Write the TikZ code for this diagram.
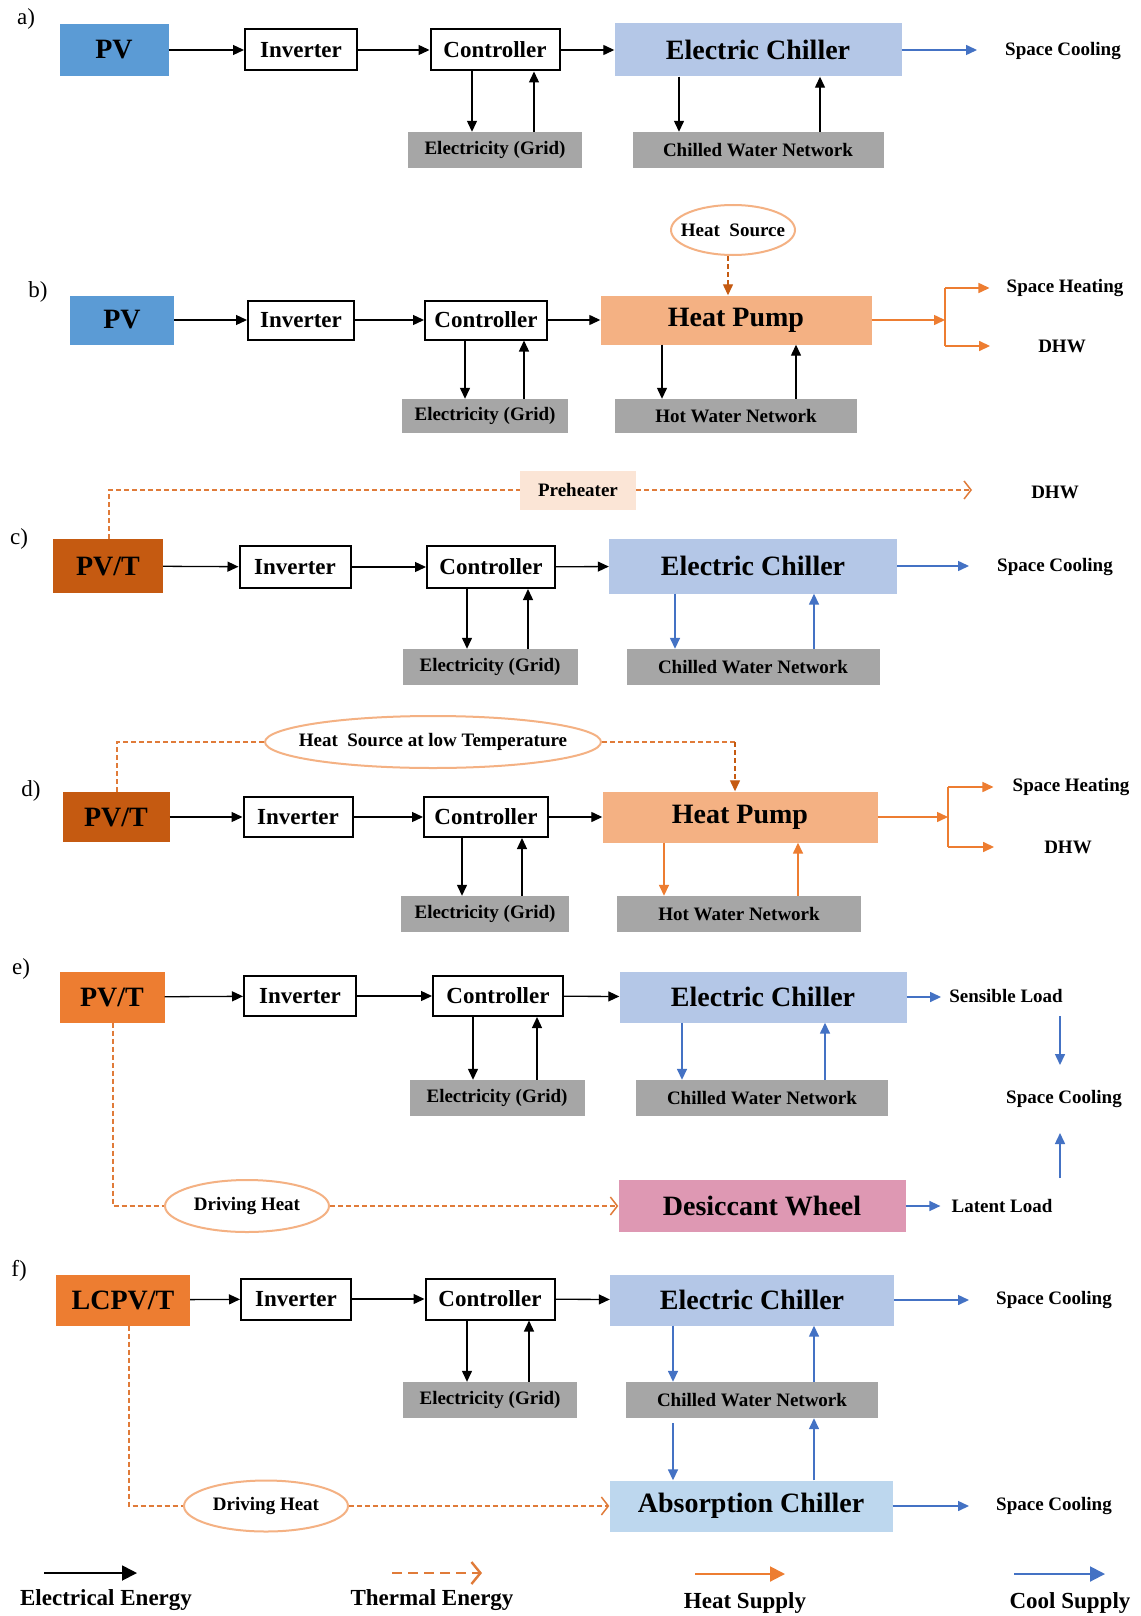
\documentclass[tikz,border=0pt]{standalone}
\usepackage{fontspec}
\setmainfont{Liberation Serif}
\usetikzlibrary{arrows.meta,shapes.geometric,calc}
\definecolor{pvblue}{HTML}{5B9BD5}
\definecolor{chill}{HTML}{B4C7E7}
\definecolor{hpc}{HTML}{F4B183}
\definecolor{gridg}{HTML}{A6A6A6}
\definecolor{pvtdark}{HTML}{C55A11}
\definecolor{pvtor}{HTML}{ED7D31}
\definecolor{desic}{HTML}{DE98B3}
\definecolor{absc}{HTML}{BDD7EE}
\definecolor{preh}{HTML}{FBE5D6}
\definecolor{coolb}{HTML}{4472C4}
\definecolor{heato}{HTML}{ED7D31}
\definecolor{thermo}{HTML}{E07B39}
\definecolor{ellb}{HTML}{F4B183}
\newcommand\myfs[1]{\fontsize{#1}{#1}\selectfont}
\begin{document}
\begin{tikzpicture}[x=1pt,y=-1pt,
  big/.style={font=\bfseries\myfs{28}},
  mid/.style={font=\bfseries\myfs{23}},
  small/.style={font=\bfseries\myfs{19}},
  src/.style={big,inner sep=0pt},
  ctl/.style={draw,line width=2pt,fill=white,mid,inner sep=0pt},
  gridbox/.style={fill=gridg,small,inner sep=0pt},
  lbl/.style={small,inner sep=0pt},
  ell/.style={ellipse,draw=ellb,line width=2pt,inner sep=0pt},
  plabel/.style={font=\myfs{23},inner sep=0pt},
  legtext/.style={font=\bfseries\myfs{23},inner sep=0pt},
  ea/.style={line width=1.3pt,-{Triangle[length=11pt,width=10pt]}},
  ca/.style={coolb,line width=1.5pt,-{Triangle[length=11pt,width=10pt]}},
  ha/.style={heato,line width=1.5pt,-{Triangle[length=11pt,width=10pt]}},
  hl/.style={heato,line width=1.5pt},
  tl/.style={thermo,line width=1.3pt,dash pattern=on 5pt off 3pt},
  ta/.style={tl,-{Straight Barb[length=7pt,width=18pt,line width=1.5pt]}},
  tfa/.style={pvtdark,line width=1.3pt,dash pattern=on 5pt off 3pt,-{Triangle[length=11pt,width=10pt]}},
  bigtip/.style={-{Triangle[length=15pt,width=15pt]}},
]
\useasboundingbox[fill=white] (0,0) rectangle (1140,1616);

% ---------------- a) ----------------
\node[plabel] (la) at (26,19) {a)};
\node[src,fill=pvblue,minimum width=109pt,minimum height=52pt] (pvA) at (114,50) {PV};
\node[ctl,minimum width=112pt,minimum height=41pt] (invA) at (301,50) {Inverter};
\node[ctl,minimum width=129pt,minimum height=41pt] (ctlA) at (495,50) {Controller};
\node[src,fill=chill,minimum width=287pt,minimum height=53pt] (ecA) at (758,50) {Electric Chiller};
\node[gridbox,minimum width=174pt,minimum height=36pt] (gridA) at (495,150) {Electricity (Grid)};
\node[gridbox,minimum width=251pt,minimum height=36pt] (cwnA) at (758,150) {Chilled Water Network};
\node[lbl] (scA) at (1063,51) {Space Cooling};
\draw[ea] (pvA) -- (invA);
\draw[ea] (invA) -- (ctlA);
\draw[ea] (ctlA) -- (ecA);
\draw[ca,shorten >=28pt] (ecA.east) -- (ecA.east -| scA.west);
\draw[ea] (472,0 |- ctlA.south) -- (472,0 |- gridA.north);
\draw[ea] (534,0 |- gridA.north) -- (534,0 |- ctlA.south);
\draw[ea] (679,0 |- ecA.south) -- (679,0 |- cwnA.north);
\draw[ea] (820,0 |- cwnA.north) -- (820,0 |- ecA.south);

% ---------------- b) ----------------
\node[plabel] (lb) at (38,292) {b)};
\node[ell,minimum width=124pt,minimum height=50pt] (hsB) at (733,230) {};
\node[lbl] (hsBt) at (hsB) {Heat\hspace{0.5em}Source};
\node[src,fill=pvblue,minimum width=104pt,minimum height=49pt] (pvB) at (122,320) {PV};
\node[ctl,minimum width=106pt,minimum height=39pt] (invB) at (301,320) {Inverter};
\node[ctl,minimum width=122pt,minimum height=39pt] (ctlB) at (486,320) {Controller};
\node[src,fill=hpc,minimum width=271pt,minimum height=49pt] (hpB) at (736,320) {Heat Pump};
\node[gridbox,minimum width=166pt,minimum height=34pt] (gridB) at (485,416) {Electricity (Grid)};
\node[gridbox,minimum width=242pt,minimum height=34pt] (hwnB) at (736,416) {Hot Water Network};
\node[lbl] (shB) at (1065,288) {Space Heating};
\node[lbl] (dhwB) at (1062,346) {DHW};
\draw[ea] (pvB) -- (invB);
\draw[ea] (invB) -- (ctlB);
\draw[ea] (ctlB) -- (hpB);
\draw[tfa] (728,0 |- hsB.south) -- (728,0 |- hpB.north);
\draw[ea] (465,0 |- ctlB.south) -- (465,0 |- gridB.north);
\draw[ea] (524,0 |- gridB.north) -- (524,0 |- ctlB.south);
\draw[ea] (662,0 |- hpB.south) -- (662,0 |- hwnB.north);
\draw[ea] (796,0 |- hwnB.north) -- (796,0 |- hpB.south);
\coordinate (bm) at (945,320);
\coordinate (bt) at (945,288);
\coordinate (bb) at (945,346);
\draw[ha] (hpB.east) -- (bm);
\draw[hl] (bt) -- (bb);
\draw[ha,shorten >=17pt] (bt) -- (bt -| shB.west);
\draw[ha,shorten >=48pt] (bb) -- (bb -| dhwB.west);

% ---------------- c) ----------------
\node[plabel] (lc) at (19,539) {c)};
\node[fill=preh,small,inner sep=0pt,minimum width=116pt,minimum height=39pt] (prehC) at (578,490) {Preheater};
\node[lbl] (dhwC) at (1055,492) {DHW};
\node[src,fill=pvtdark,minimum width=110pt,minimum height=54pt] (pvtC) at (108,566) {PV/T};
\node[ctl,minimum width=111pt,minimum height=42pt] (invC) at (295,567) {Inverter};
\node[ctl,minimum width=128pt,minimum height=42pt] (ctlC) at (491,567) {Controller};
\node[src,fill=chill,minimum width=288pt,minimum height=55pt] (ecC) at (753,566) {Electric Chiller};
\node[gridbox,minimum width=175pt,minimum height=36pt] (gridC) at (490,667) {Electricity (Grid)};
\node[gridbox,minimum width=253pt,minimum height=36pt] (cwnC) at (753,667) {Chilled Water Network};
\node[lbl] (scC) at (1055,567) {Space Cooling};
\coordinate (c1) at (109,490);
\coordinate (c2) at (972,490);
\draw[tl] (109,0 |- pvtC.north) -- (c1) -- (prehC.west);
\draw[ta] (prehC.east) -- (c2);
\draw[ea] (pvtC) -- (invC);
\draw[ea] (invC) -- (ctlC);
\draw[ea] (ctlC) -- (ecC);
\draw[ca,shorten >=28pt] (ecC.east) -- (ecC.east -| scC.west);
\draw[ea] (467,0 |- ctlC.south) -- (467,0 |- gridC.north);
\draw[ea] (528,0 |- gridC.north) -- (528,0 |- ctlC.south);
\draw[ca] (675,0 |- ecC.south) -- (675,0 |- cwnC.north);
\draw[ca] (814,0 |- cwnC.north) -- (814,0 |- ecC.south);

% ---------------- d) ----------------
\node[plabel] (ld) at (31,791) {d)};
\node[ell,minimum width=336pt,minimum height=52pt] (hslD) at (433,742) {};
\node[lbl] (hslDt) at (hslD) {Heat\hspace{0.5em}Source at low Temperature};
\node[src,fill=pvtdark,minimum width=107pt,minimum height=50pt] (pvtD) at (116,817) {PV/T};
\node[ctl,minimum width=109pt,minimum height=40pt] (invD) at (298,817) {Inverter};
\node[ctl,minimum width=124pt,minimum height=40pt] (ctlD) at (486,817) {Controller};
\node[src,fill=hpc,minimum width=275pt,minimum height=51pt] (hpD) at (740,817) {Heat Pump};
\node[gridbox,minimum width=168pt,minimum height=36pt] (gridD) at (485,914) {Electricity (Grid)};
\node[gridbox,minimum width=244pt,minimum height=36pt] (hwnD) at (739,914) {Hot Water Network};
\node[lbl] (shD) at (1071,787) {Space Heating};
\node[lbl] (dhwD) at (1068,847) {DHW};
\coordinate (d1) at (117,742);
\coordinate (d2) at (735,742);
\draw[tl] (117,0 |- pvtD.north) -- (d1) -- (hslD.west);
\draw[tl] (hslD.east) -- (d2);
\draw[tfa] (d2) -- (d2 |- hpD.north);
\draw[ea] (pvtD) -- (invD);
\draw[ea] (invD) -- (ctlD);
\draw[ea] (ctlD) -- (hpD);
\draw[ea] (462,0 |- ctlD.south) -- (462,0 |- gridD.north);
\draw[ea] (522,0 |- gridD.north) -- (522,0 |- ctlD.south);
\draw[ha] (664,0 |- hpD.south) -- (664,0 |- hwnD.north);
\draw[ha] (798,0 |- hwnD.north) -- (798,0 |- hpD.south);
\coordinate (dm) at (948,817);
\coordinate (dt) at (948,787);
\coordinate (db) at (948,847);
\draw[ha] (hpD.east) -- (dm);
\draw[hl] (dt) -- (db);
\draw[ha,shorten >=19pt] (dt) -- (dt -| shD.west);
\draw[ha,shorten >=50pt] (db) -- (db -| dhwD.west);

% ---------------- e) ----------------
\node[plabel] (le) at (21,969) {e)};
\node[src,fill=pvtor,minimum width=105pt,minimum height=51pt] (pvtE) at (112,997) {PV/T};
\node[ctl,minimum width=112pt,minimum height=40pt] (invE) at (300,996) {Inverter};
\node[ctl,minimum width=130pt,minimum height=40pt] (ctlE) at (498,996) {Controller};
\node[src,fill=chill,minimum width=287pt,minimum height=51pt] (ecE) at (763,997) {Electric Chiller};
\node[gridbox,minimum width=175pt,minimum height=36pt] (gridE) at (497,1098) {Electricity (Grid)};
\node[gridbox,minimum width=252pt,minimum height=36pt] (cwnE) at (762,1098) {Chilled Water Network};
\node[lbl] (sensE) at (1006,996) {Sensible Load};
\node[lbl] (scE) at (1064,1099) {Space Cooling};
\node[src,fill=desic,minimum width=287pt,minimum height=52pt] (desE) at (762,1206) {Desiccant Wheel};
\node[lbl] (latE) at (1002,1206) {Latent Load};
\node[ell,minimum width=164pt,minimum height=52pt] (dhE) at (247,1206) {};
\node[lbl] (dhEt) at (dhE) {Driving Heat};
\draw[ea] (pvtE) -- (invE);
\draw[ea] (invE) -- (ctlE);
\draw[ea] (ctlE) -- (ecE);
\draw[ca,shorten >=8pt] (ecE.east) -- (ecE.east -| sensE.west);
\draw[ca,shorten >=11pt] (desE.east) -- (desE.east -| latE.west);
\draw[ea] (473,0 |- ctlE.south) -- (473,0 |- gridE.north);
\draw[ea] (537,0 |- gridE.north) -- (537,0 |- ctlE.south);
\draw[ca] (682,0 |- ecE.south) -- (682,0 |- cwnE.north);
\draw[ca] (825,0 |- cwnE.north) -- (825,0 |- ecE.south);
\coordinate (e1) at (1060,1016);
\coordinate (e2) at (1060,1065);
\coordinate (e3) at (1060,1178);
\coordinate (e4) at (1060,1133);
\draw[ca] (e1) -- (e2);
\draw[ca] (e3) -- (e4);
\coordinate (e5) at (113,1206);
\draw[tl] (113,0 |- pvtE.south) -- (e5) -- (dhE.west);
\draw[ta] (dhE.east) -- (desE.west);

% ---------------- f) ----------------
\node[plabel] (lf) at (19,1271) {f)};
\node[src,fill=pvtor,minimum width=134pt,minimum height=51pt] (lcF) at (123,1300) {LCPV/T};
\node[ctl,minimum width=110pt,minimum height=41pt] (invF) at (296,1299) {Inverter};
\node[ctl,minimum width=129pt,minimum height=41pt] (ctlF) at (490,1299) {Controller};
\node[src,fill=chill,minimum width=284pt,minimum height=51pt] (ecF) at (752,1300) {Electric Chiller};
\node[gridbox,minimum width=174pt,minimum height=36pt] (gridF) at (490,1400) {Electricity (Grid)};
\node[gridbox,minimum width=252pt,minimum height=36pt] (cwnF) at (752,1400) {Chilled Water Network};
\node[src,fill=absc,minimum width=283pt,minimum height=51pt] (absF) at (751,1506) {Absorption Chiller};
\node[ell,minimum width=164pt,minimum height=51pt] (dhF) at (266,1506) {};
\node[lbl] (dhFt) at (dhF) {Driving Heat};
\node[lbl] (scF1) at (1054,1300) {Space Cooling};
\node[lbl] (scF2) at (1054,1506) {Space Cooling};
\draw[ea] (lcF) -- (invF);
\draw[ea] (invF) -- (ctlF);
\draw[ea] (ctlF) -- (ecF);
\draw[ca,shorten >=27pt] (ecF.east) -- (ecF.east -| scF1.west);
\draw[ca,shorten >=27pt] (absF.east) -- (absF.east -| scF2.west);
\draw[ea] (467,0 |- ctlF.south) -- (467,0 |- gridF.north);
\draw[ea] (529,0 |- gridF.north) -- (529,0 |- ctlF.south);
\draw[ca] (673,0 |- ecF.south) -- (673,0 |- cwnF.north);
\draw[ca] (814,0 |- cwnF.north) -- (814,0 |- ecF.south);
\draw[ca,shorten <=5pt] (673,0 |- cwnF.south) -- (673,0 |- absF.north);
\draw[ca] (814,0 |- absF.north) -- (814,0 |- cwnF.south);
\coordinate (f1) at (129,1506);
\draw[tl] (129,0 |- lcF.south) -- (f1) -- (dhF.west);
\draw[ta] (dhF.east) -- (absF.west);

% ---------------- legend ----------------
\coordinate (l1a) at (44,1573);  \coordinate (l1b) at (137,1573);
\coordinate (l2a) at (392,1573); \coordinate (l2b) at (482,1573);
\coordinate (l3a) at (695,1574); \coordinate (l3b) at (785,1574);
\coordinate (l4a) at (1014,1574);\coordinate (l4b) at (1105,1574);
\draw[line width=1.8pt,bigtip] (l1a) -- (l1b);
\draw[thermo,line width=2.6pt,dash pattern=on 10pt off 6pt,-{Straight Barb[length=9pt,width=22pt,line width=2.4pt]}] (l2a) -- (l2b);
\draw[heato,line width=2pt,bigtip] (l3a) -- (l3b);
\draw[coolb,line width=2pt,bigtip] (l4a) -- (l4b);
\node[legtext] (t1) at (106,1600) {Electrical Energy};
\node[legtext] (t2) at (432,1600) {Thermal Energy};
\node[legtext] (t3) at (745,1603) {Heat Supply};
\node[legtext] (t4) at (1070,1603) {Cool Supply};
\end{tikzpicture}
\end{document}
